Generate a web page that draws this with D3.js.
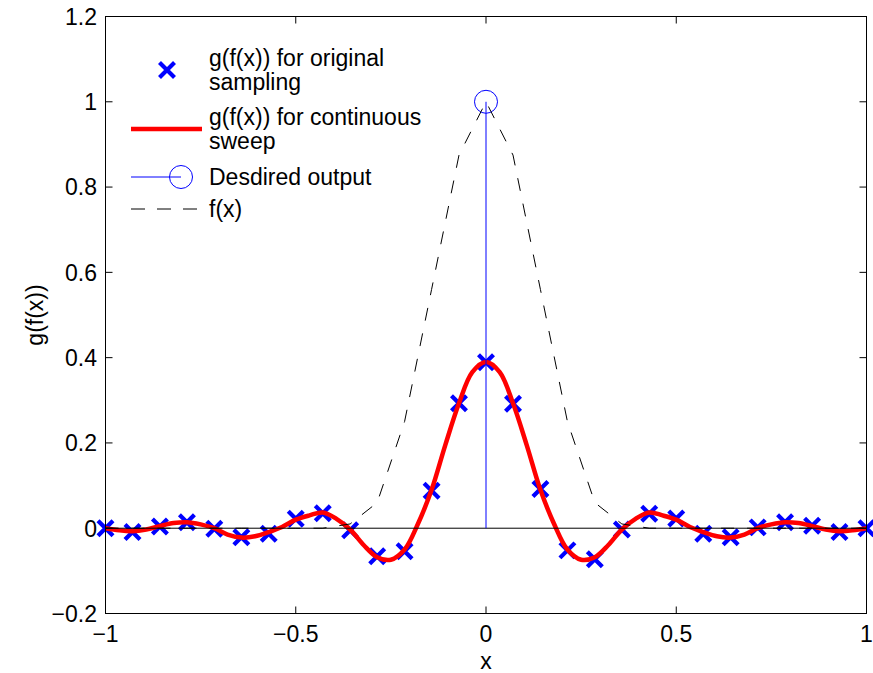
<!DOCTYPE html>
<html>
<head>
<meta charset="utf-8">
<script src="https://cdn.jsdelivr.net/npm/d3@7"></script>
<style>
  body { margin: 0; background: #fff; }
  svg { display: block; font-family: 'Liberation Sans', Arial, sans-serif; }
</style>
</head>
<body>
<script>
const sampleX = [-1, -0.929, -0.857, -0.786, -0.714, -0.643, -0.571, -0.5, -0.429, -0.357, -0.286, -0.214, -0.143, -0.071, 0,
  0.071, 0.143, 0.214, 0.286, 0.357, 0.429, 0.5, 0.571, 0.643, 0.714, 0.786, 0.857, 0.929, 1]
const sampleY = [0, -0.009, 0.004, 0.014, -0.001, -0.021, -0.013, 0.022, 0.035, -0.005, -0.066, -0.054, 0.088, 0.293, 0.389,
  0.292, 0.092, -0.052, -0.073, -0.003, 0.034, 0.023, -0.013, -0.021, 0.002, 0.014, 0.006, -0.009, 0]
const fY = [0, 0, 0, 0, 0, 0, 0, 0, 0, 0.01, 0.06, 0.25, 0.56, 0.875, 1,
  0.875, 0.56, 0.25, 0.06, 0.01, 0, 0, 0, 0, 0, 0, 0, 0, 0]

const sweepX = [-1, -0.964, -0.929, -0.893, -0.857, -0.821, -0.786, -0.75, -0.714, -0.679, -0.643, -0.607, -0.571, -0.536,
  -0.5, -0.464, -0.429, -0.393, -0.357, -0.321, -0.286, -0.25, -0.214, -0.179, -0.143, -0.107, -0.071, -0.036, 0,
  0.036, 0.071, 0.107, 0.143, 0.179, 0.214, 0.25, 0.286, 0.321, 0.357, 0.393, 0.429, 0.464, 0.5,
  0.536, 0.571, 0.607, 0.643, 0.679, 0.714, 0.75, 0.786, 0.821, 0.857, 0.893, 0.929, 0.964, 1]
const sweepY = [0, -0.005, -0.007, -0.003, 0.005, 0.012, 0.014, 0.009, 0, -0.015, -0.022, -0.019, -0.009, 0.003,
  0.02, 0.03, 0.037, 0.022, -0.003, -0.04, -0.068, -0.074, -0.05, 0.01, 0.09, 0.195, 0.293, 0.366, 0.39,
  0.366, 0.293, 0.195, 0.09, 0.01, -0.05, -0.074, -0.068, -0.04, -0.003, 0.022, 0.037, 0.03, 0.02,
  0.003, -0.009, -0.019, -0.022, -0.015, 0, 0.009, 0.014, 0.012, 0.005, -0.003, -0.007, -0.005, 0]

const stemX = [0]
const stemY = [1]

const xTicks = [-1, -0.5, 0, 0.5, 1]
const yTicks = [-0.2, 0, 0.2, 0.4, 0.6, 0.8, 1, 1.2]

const legendLabels = [
  ['g(f(x)) for original', 'sampling'],
  ['g(f(x)) for continuous', 'sweep'],
  ['Desdired output'],
  ['f(x)']
]

const width = 873
const height = 673
const fontSize = 23

const svg = d3
  .select('body')
  .append('svg')
  .attr('width', width)
  .attr('height', height)

const x = d3.scaleLinear().domain([-1, 1]).range([105.5, 866.5])
const y = d3.scaleLinear().domain([-0.2, 1.2]).range([613.5, 16.5])
const fmt = d3.format('~g')

const cross = 'M-7.5,-7.5L7.5,7.5M-7.5,7.5L7.5,-7.5'

// sampled markers
svg
  .selectAll('.sample')
  .data(sampleX)
  .enter()
  .append('path')
  .attr('class', 'sample')
  .attr('d', cross)
  .attr('transform', (d, i) => `translate(${x(d)},${y(sampleY[i])})`)
  .attr('stroke', '#0000ff')
  .attr('stroke-width', 4.2)
  .attr('fill', 'none')

// continuous sweep
const sweepLine = d3
  .line()
  .x(d => x(d[0]))
  .y(d => y(d[1]))
  .curve(d3.curveCatmullRom)

svg
  .append('path')
  .datum(sweepX.map((d, i) => [d, sweepY[i]]))
  .attr('d', sweepLine)
  .attr('fill', 'none')
  .attr('stroke', '#ff0000')
  .attr('stroke-width', 4.5)
  .attr('stroke-linejoin', 'round')

// stem + baseline
svg
  .append('line')
  .attr('x1', x(-1))
  .attr('x2', x(1))
  .attr('y1', y(0))
  .attr('y2', y(0))
  .attr('stroke', '#000')
  .attr('stroke-width', 1)

svg
  .selectAll('.stem')
  .data(stemX)
  .enter()
  .append('line')
  .attr('class', 'stem')
  .attr('x1', d => x(d))
  .attr('x2', d => x(d))
  .attr('y1', y(0))
  .attr('y2', (d, i) => y(stemY[i]))
  .attr('stroke', '#0000ff')
  .attr('stroke-width', 1)

svg
  .selectAll('.stem-head')
  .data(stemX)
  .enter()
  .append('circle')
  .attr('class', 'stem-head')
  .attr('cx', d => x(d))
  .attr('cy', (d, i) => y(stemY[i]))
  .attr('r', 11.5)
  .attr('fill', 'none')
  .attr('stroke', '#0000ff')
  .attr('stroke-width', 1)

// f(x)
const fLine = d3
  .line()
  .x(d => x(d[0]))
  .y(d => y(d[1]))

svg
  .append('path')
  .datum(sampleX.map((d, i) => [d, fY[i]]))
  .attr('d', fLine)
  .attr('fill', 'none')
  .attr('stroke', '#000')
  .attr('stroke-width', 1)
  .attr('stroke-dasharray', '13,13')

// axes box and ticks
const frame = svg.append('g').attr('class', 'frame')

frame
  .append('rect')
  .attr('x', x(-1))
  .attr('y', y(1.2))
  .attr('width', x(1) - x(-1))
  .attr('height', y(-0.2) - y(1.2))
  .attr('fill', 'none')
  .attr('stroke', '#000')
  .attr('stroke-width', 1)

const tickLen = 7

xTicks.forEach(t => {
  frame.append('line')
    .attr('x1', x(t)).attr('x2', x(t))
    .attr('y1', y(-0.2)).attr('y2', y(-0.2) - tickLen)
    .attr('stroke', '#000')
  frame.append('line')
    .attr('x1', x(t)).attr('x2', x(t))
    .attr('y1', y(1.2)).attr('y2', y(1.2) + tickLen)
    .attr('stroke', '#000')
  frame.append('text')
    .attr('x', x(t))
    .attr('y', 642)
    .attr('text-anchor', 'middle')
    .style('font-size', fontSize + 'px')
    .text(fmt(t))
})

yTicks.forEach(t => {
  frame.append('line')
    .attr('x1', x(-1)).attr('x2', x(-1) + tickLen)
    .attr('y1', y(t)).attr('y2', y(t))
    .attr('stroke', '#000')
  frame.append('line')
    .attr('x1', x(1)).attr('x2', x(1) - tickLen)
    .attr('y1', y(t)).attr('y2', y(t))
    .attr('stroke', '#000')
  frame.append('text')
    .attr('x', 97)
    .attr('y', y(t) + 8.3)
    .attr('text-anchor', 'end')
    .style('font-size', fontSize + 'px')
    .text(fmt(t))
})

svg
  .append('text')
  .attr('x', x(0))
  .attr('y', 669)
  .attr('text-anchor', 'middle')
  .style('font-size', fontSize + 'px')
  .text('x')

svg
  .append('text')
  .attr('transform', 'translate(43,315) rotate(-90)')
  .attr('text-anchor', 'middle')
  .style('font-size', fontSize + 'px')
  .text('g(f(x))')

// legend
const legendY = [70, 129, 177, 209]
const legend = svg.append('g').attr('class', 'legend')

legend
  .selectAll('.legend-row')
  .data(legendLabels)
  .enter()
  .append('g')
  .attr('class', 'legend-row')
  .attr('transform', (d, i) => `translate(0,${legendY[i]})`)
  .each(function(d, i) {
    const g = d3.select(this)
    if (i === 0) {
      g.append('path')
        .attr('d', cross)
        .attr('transform', 'translate(167,0)')
        .attr('stroke', '#0000ff')
        .attr('stroke-width', 4.2)
        .attr('fill', 'none')
    } else if (i === 1) {
      g.append('line')
        .attr('x1', 131).attr('x2', 202)
        .attr('stroke', '#ff0000')
        .attr('stroke-width', 4.5)
    } else if (i === 2) {
      g.append('line')
        .attr('x1', 131).attr('x2', 181)
        .attr('stroke', '#0000ff')
      g.append('circle')
        .attr('cx', 181)
        .attr('r', 11.5)
        .attr('fill', 'none')
        .attr('stroke', '#0000ff')
    } else {
      g.append('line')
        .attr('x1', 131).attr('x2', 202)
        .attr('stroke', '#000')
        .attr('stroke-dasharray', '14,12')
    }
    const offset = d.length > 1 ? -12 : 0
    d.forEach((line, j) => {
      g.append('text')
        .attr('x', 209)
        .attr('y', offset + j * 24 + 8.3)
        .style('font-size', fontSize + 'px')
        .text(line)
    })
  })
</script>
</body>
</html>
